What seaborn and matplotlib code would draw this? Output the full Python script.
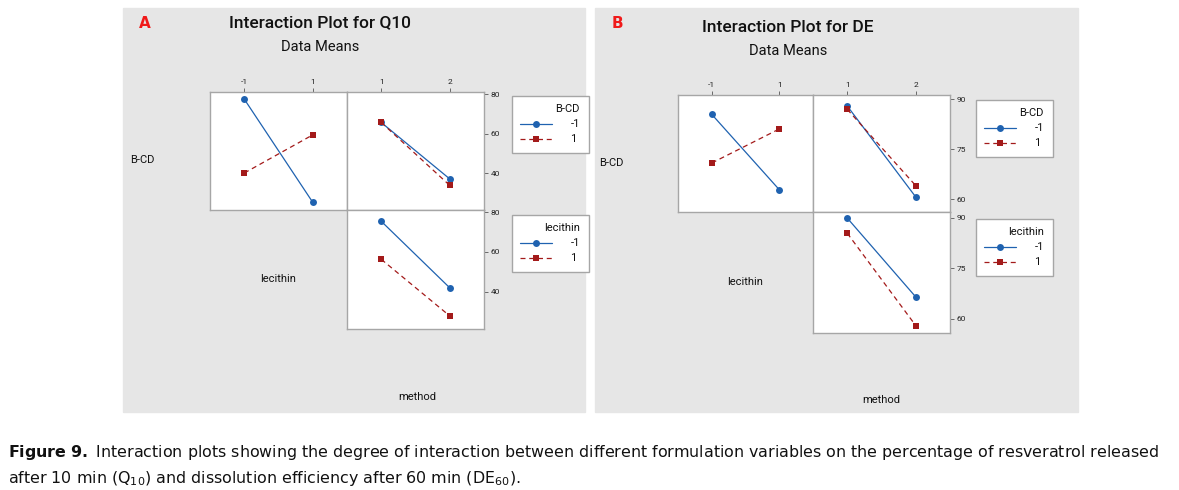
import pandas as pd
import seaborn as sns
import matplotlib.pyplot as plt
from matplotlib.patches import Rectangle

W, H = 1179, 490

lecithin_levels = [-1, 1]
method_levels = [1, 2]
group_labels = ["-1", "1"]

# Panel A: Q10 means
q10_lec_bcd_neg = [77.6, 25.1]
q10_lec_bcd_pos = [40.0, 59.4]
q10_met_bcd_neg = [65.7, 37.0]
q10_met_bcd_pos = [65.7, 33.7]
q10_met_lec_neg = [75.5, 41.9]
q10_met_lec_pos = [56.3, 27.7]
q10_yticks = [40, 60, 80]

# Panel B: DE means
de_lec_bcd_neg = [85.4, 62.8]
de_lec_bcd_pos = [70.8, 81.0]
de_met_bcd_neg = [87.9, 60.6]
de_met_bcd_pos = [86.9, 64.0]
de_met_lec_neg = [89.9, 66.5]
de_met_lec_pos = [85.4, 58.0]
de_yticks = [60, 75, 90]

BLUE = "#1f62b0"
RED = "#a31a1a"
GREY_BG = "#e6e6e6"
EDGE = "#a6a6a6"
INK = "#111111"

sns.set_style("white")
plt.rcParams["font.family"] = ["Roboto", "DejaVu Sans"]
plt.rcParams["text.color"] = INK


def fbox(x0, y0, x1, y1):
    return [x0 / W, 1 - y1 / H, (x1 - x0) / W, (y1 - y0) / H]


def make_df(levels, neg, pos):
    return pd.DataFrame({"x": levels * 2, "y": neg + pos,
                         "g": [group_labels[0]] * 2 + [group_labels[1]] * 2})


def draw_cell(fig, box, df, xlim, ylim):
    ax = fig.add_axes(fbox(*box))
    sns.lineplot(data=df, x="x", y="y", hue="g", style="g",
                 hue_order=group_labels, style_order=group_labels,
                 palette=[BLUE, RED], markers=["o", "s"], dashes=["", (4, 3)],
                 markersize=5, markeredgewidth=0, linewidth=0.9,
                 legend=False, ax=ax)
    ax.set_xlim(*xlim)
    ax.set_ylim(*ylim)
    ax.set_xlabel("")
    ax.set_ylabel("")
    ax.set_facecolor("white")
    for s in ax.spines.values():
        s.set_color(EDGE)
        s.set_linewidth(1.0)
    ax.tick_params(axis="both", which="both", length=0, labelsize=6,
                   colors="#222222")
    ax.set_xticks([])
    ax.set_yticks([])
    return ax


def add_legend(fig, ax, title, x, y):
    handles = ax.get_lines()[:2]
    leg = fig.legend(handles, group_labels, title=title, loc="upper left",
                     bbox_to_anchor=(x / W, 1 - y / H), frameon=True,
                     fancybox=False, edgecolor=EDGE, facecolor="white",
                     framealpha=1, fontsize=8, title_fontsize=8,
                     handlelength=2.8, handletextpad=1.7,
                     labelspacing=0.45, borderpad=0.8, alignment="right",
                     markerfirst=True)
    leg.get_frame().set_linewidth(1.0)
    for t in leg.get_texts():
        t.set_ha("right")


def draw_panel(fig, g, data, yticks, ylim_top, ylim_bot, title, letter):
    # grey background
    fig.patches.append(Rectangle((g["bg"][0] / W, 1 - g["bg"][3] / H),
                                 (g["bg"][2] - g["bg"][0]) / W,
                                 (g["bg"][3] - g["bg"][1]) / H,
                                 transform=fig.transFigure, color=GREY_BG,
                                 zorder=-10))
    xl, xm, xr = g["cols"]
    yt, ym, yb = g["rows"]
    ax1 = draw_cell(fig, (xl, yt, xm, ym),
                    make_df(lecithin_levels, data[0], data[1]), (-2, 2), ylim_top)
    ax2 = draw_cell(fig, (xm, yt, xr, ym),
                    make_df(method_levels, data[2], data[3]), (0.5, 2.5), ylim_top)
    ax3 = draw_cell(fig, (xm, ym, xr, yb),
                    make_df(method_levels, data[4], data[5]), (0.5, 2.5), ylim_bot)

    for ax, ticks in ((ax1, lecithin_levels), (ax2, method_levels)):
        ax.xaxis.tick_top()
        ax.set_xticks(ticks)
        ax.set_xticklabels([str(t) for t in ticks])
        ax.tick_params(axis="x", length=3, width=0.6, color="#555555", pad=2)
    for ax in (ax2, ax3):
        ax.yaxis.tick_right()
        ax.set_yticks(yticks)
        ax.set_yticklabels([str(t) for t in yticks])
        ax.tick_params(axis="y", length=3, width=0.6, color="#555555", pad=2)

    add_legend(fig, ax2, "B-CD", *g["leg1"])
    add_legend(fig, ax3, "lecithin", *g["leg2"])

    fig.text(g["lab1"][0] / W, 1 - g["lab1"][1] / H, "B-CD", fontsize=8,
             ha="left", va="center")
    fig.text(g["lab2"][0] / W, 1 - g["lab2"][1] / H, "lecithin", fontsize=8,
             ha="center", va="center")
    fig.text(g["lab3"][0] / W, 1 - g["lab3"][1] / H, "method", fontsize=8,
             ha="center", va="center")
    fig.text(g["title"][0] / W, 1 - g["title"][1] / H, title, fontsize=12.5,
             fontweight="medium", ha="center", va="center")
    fig.text(g["title"][0] / W, 1 - (g["title"][1] + 24) / H, "Data Means",
             fontsize=10.5, ha="center", va="center")
    fig.text(g["letter"][0] / W, 1 - g["letter"][1] / H, letter, fontsize=11,
             fontweight="bold", color="#f01a1a", ha="center", va="center",
             family="DejaVu Sans")


fig = plt.figure(figsize=(W / 100, H / 100), dpi=100)
fig.patch.set_facecolor("white")

geom_a = {"bg": (123, 8, 585, 412), "cols": (210, 347, 484),
          "rows": (92, 210, 329), "leg1": (506, 90), "leg2": (506, 209),
          "lab1": (130, 160), "lab2": (278, 279), "lab3": (417, 397),
          "title": (320, 23), "letter": (145, 23)}
geom_b = {"bg": (595, 8, 1078, 412), "cols": (678, 813, 950),
          "rows": (95, 212, 333), "leg1": (970, 94), "leg2": (970, 213),
          "lab1": (599, 163), "lab2": (745, 282), "lab3": (881, 400),
          "title": (788, 27), "letter": (617, 23)}

draw_panel(fig, geom_a,
           [q10_lec_bcd_neg, q10_lec_bcd_pos, q10_met_bcd_neg, q10_met_bcd_pos,
            q10_met_lec_neg, q10_met_lec_pos],
           q10_yticks, (21.2, 81.2), (21.1, 81.2), "Interaction Plot for Q10", "A")
draw_panel(fig, geom_b,
           [de_lec_bcd_neg, de_lec_bcd_pos, de_met_bcd_neg, de_met_bcd_pos,
            de_met_lec_neg, de_met_lec_pos],
           de_yticks, (56.1, 91.2), (55.8, 91.7), "Interaction Plot for DE", "B")

cap_font = ["DejaVu Sans"]
fig.text(8 / W, 1 - 452 / H,
         r"$\mathbf{Figure\ 9.}$ Interaction plots showing the degree of interaction "
         "between different formulation variables on the percentage of resveratrol released",
         fontsize=11.45, ha="left", va="center", family=cap_font)
fig.text(8 / W, 1 - 478 / H,
         r"after 10 min (Q$_{10}$) and dissolution efficiency after 60 min (DE$_{60}$).",
         fontsize=11.45, ha="left", va="center", family=cap_font)

fig.savefig("out.png", dpi=100, facecolor="white")
